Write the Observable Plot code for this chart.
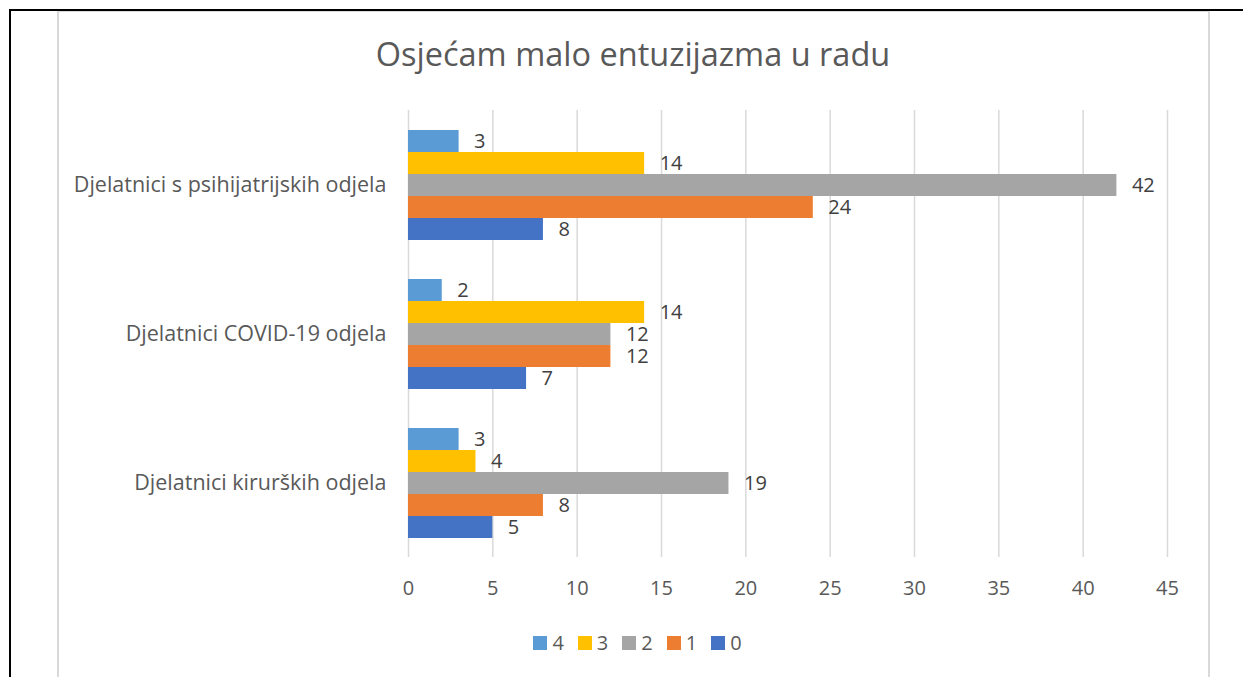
<!DOCTYPE html>
<html>
<head>
<meta charset="utf-8">
<script src="https://cdn.jsdelivr.net/npm/d3@7"></script>
<script src="https://cdn.jsdelivr.net/npm/@observablehq/plot@0.6"></script>
<style>
  html, body { margin: 0; padding: 0; background: #fff; }
  body { width: 1243px; height: 677px; position: relative; overflow: hidden; font-family: "Open Sans", Lato, sans-serif; }
  .line { position: absolute; }
  #title { position: absolute; left: 0; width: 1266px; top: 34px; text-align: center; font-size: 32.5px; color: #595959; line-height: 40px; }
  #chart { position: absolute; left: 0; top: 100px; }
  #legend { position: absolute; left: 0; width: 1275px; top: 629px; display: flex; justify-content: center; gap: 0; font-size: 20px; color: #595959; }
  .item { display: flex; align-items: center; margin: 0 7px; }
  .sw { width: 14px; height: 14px; margin-right: 5px; }
</style>
</head>
<body>
<div class="line" style="left:9px;top:9px;width:1234px;height:2px;background:#000"></div>
<div class="line" style="left:9px;top:9px;width:2px;height:668px;background:#000"></div>
<div class="line" style="left:57px;top:11px;width:1153px;height:1px;background:#d9d9d9"></div>
<div class="line" style="left:57px;top:11px;width:2px;height:666px;background:#d9d9d9"></div>
<div class="line" style="left:1208px;top:11px;width:2px;height:666px;background:#d9d9d9"></div>
<div id="title">Osjećam malo entuzijazma u radu</div>
<div id="chart"></div>
<div id="legend"></div>
<script>
const categories = ["Djelatnici s psihijatrijskih odjela", "Djelatnici COVID-19 odjela", "Djelatnici kirurških odjela"];
const series = ["4", "3", "2", "1", "0"];
const values4 = [3, 2, 3];
const values3 = [14, 14, 4];
const values2 = [42, 12, 19];
const values1 = [24, 12, 8];
const values0 = [8, 7, 5];
const seriesColors = ["#5B9BD5", "#FFC000", "#A5A5A5", "#ED7D31", "#4472C4"];
const xTicks = [0, 5, 10, 15, 20, 25, 30, 35, 40, 45];

const valuesBySeries = [values4, values3, values2, values1, values0];
const data = [];
categories.forEach((c, i) => {
  series.forEach((s, j) => {
    data.push({category: c, series: s, value: valuesBySeries[j][i]});
  });
});

const chart = Plot.plot({
  width: 1243,
  height: 508,
  marginTop: 9,
  marginBottom: 51,
  marginLeft: 408,
  marginRight: 76,
  style: {fontFamily: "'Open Sans', Lato, sans-serif", background: "transparent"},
  x: {domain: [0, 45], ticks: xTicks, label: null},
  y: {domain: series, paddingInner: 0, paddingOuter: 0.85, axis: null},
  fy: {domain: categories, padding: 0, label: null},
  color: {domain: series, range: seriesColors},
  marks: [
    Plot.ruleX(xTicks, {x: d => d, stroke: "#d9d9d9", strokeWidth: 1.5, strokeOpacity: 1}),
    Plot.barX(data, {x: "value", y: "series", fy: "category", fill: "series"}),
    Plot.text(data, {x: "value", y: "series", fy: "category", text: d => String(d.value), textAnchor: "start", dx: 15, fontSize: 20, fill: "#404040"}),
    Plot.axisX({ticks: xTicks, tickSize: 0, tickPadding: 23, fontSize: 20, color: "#595959", label: null, tickFormat: d => String(d)}),
    Plot.axisFy({anchor: "left", tickSize: 0, tickPadding: 22, fontSize: 21.5, color: "#595959", label: null})
  ]
});
document.getElementById("chart").appendChild(chart);

const legend = document.getElementById("legend");
series.forEach((s, i) => {
  const item = document.createElement("div");
  item.className = "item";
  const sw = document.createElement("div");
  sw.className = "sw";
  sw.style.background = seriesColors[i];
  const t = document.createElement("span");
  t.textContent = s;
  item.appendChild(sw);
  item.appendChild(t);
  legend.appendChild(item);
});
</script>
</body>
</html>
